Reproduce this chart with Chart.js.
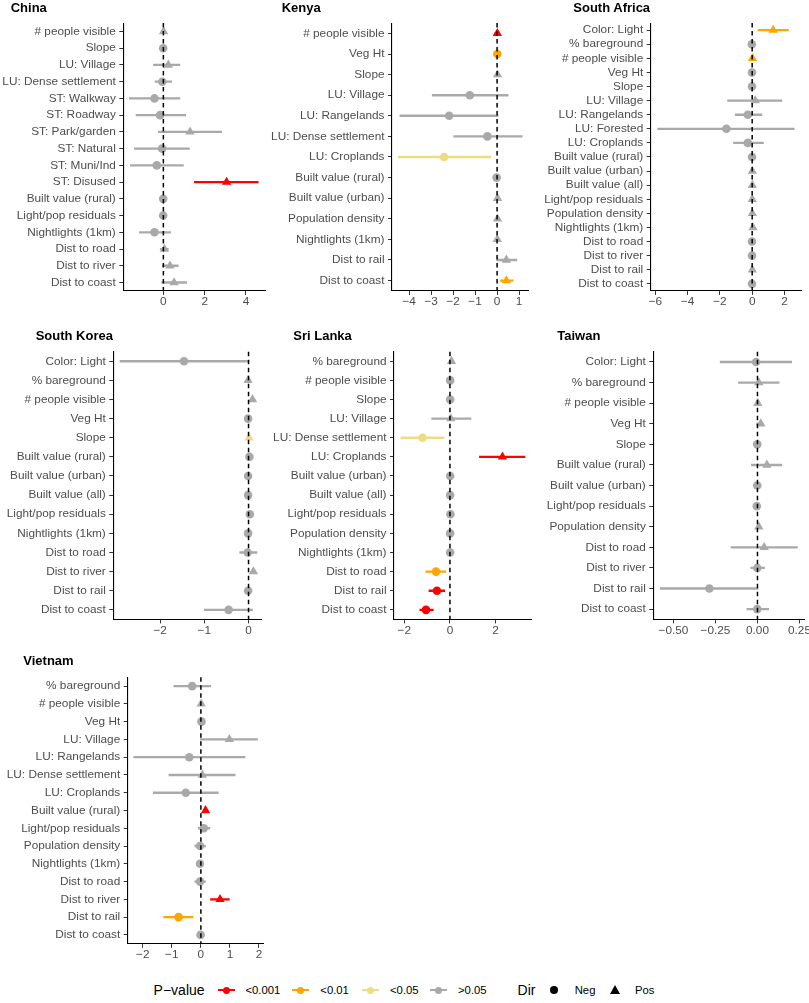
<!DOCTYPE html>
<html>
<head>
<meta charset="utf-8">
<script src="https://cdn.jsdelivr.net/npm/chart.js@4.4.1/dist/chart.umd.min.js"></script>
<style>
  body { margin: 0; background: #fff; width: 809px; height: 1003px; position: relative; overflow: hidden;
         font-family: 'Liberation Sans', Arial, Helvetica, sans-serif; }
  canvas { position: absolute; }
  .panel-title { position: absolute; font-size: 13px; font-weight: bold; line-height: 15px; color: #000; white-space: nowrap; }
  .lg { position: absolute; white-space: nowrap; color: #000; }
  .lg-title { font-size: 14px; }
  .lg-text { font-size: 11.3px; }
  .lg-line { position: absolute; height: 1.7px; width: 17px; }
  .lg-dot { position: absolute; width: 7px; height: 7px; border-radius: 50%; }
</style>
</head>
<body>
<div id="legend"></div>
<script>
// ---- shared legend data ----
const pLabels = ['<0.001', '<0.01', '<0.05', '>0.05'];
const pColors = ['#FF0000', '#FFA500', '#EEDC82', '#A9A9A9'];
const dirLabels = ['Neg', 'Pos'];

// ---- China ----
const chinaLabels = ['# people visible', 'Slope', 'LU: Village', 'LU: Dense settlement', 'ST: Walkway', 'ST: Roadway',
  'ST: Park/garden', 'ST: Natural', 'ST: Muni/Ind', 'ST: Disused', 'Built value (rural)', 'Light/pop residuals',
  'Nightlights (1km)', 'Dist to road', 'Dist to river', 'Dist to coast'];
const chinaEst = [0.01, -0.01, 0.24, -0.05, -0.43, -0.16, 1.29, -0.06, -0.32, 3.06, -0.01, -0.01, -0.43, 0.05, 0.32, 0.52];
const chinaLo = [-0.03, -0.05, -0.48, -0.4, -1.65, -1.32, -0.24, -1.4, -1.6, 1.5, -0.05, -0.05, -1.16, -0.15, -0.05, -0.08];
const chinaHi = [0.05, 0.03, 0.8, 0.4, 0.8, 1.08, 2.82, 1.26, 0.97, 4.59, 0.03, 0.03, 0.35, 0.24, 0.72, 1.13];
const chinaP = [3, 3, 3, 3, 3, 3, 3, 3, 3, 0, 3, 3, 3, 3, 3, 3];
const chinaDir = ['Pos', 'Neg', 'Pos', 'Neg', 'Neg', 'Neg', 'Pos', 'Neg', 'Neg', 'Pos', 'Neg', 'Neg', 'Neg', 'Pos', 'Pos', 'Pos'];
const chinaTicks = [0, 2, 4];

// ---- Kenya ----
const kenyaLabels = ['# people visible', 'Veg Ht', 'Slope', 'LU: Village', 'LU: Rangelands', 'LU: Dense settlement',
  'LU: Croplands', 'Built value (rural)', 'Built value (urban)', 'Population density', 'Nightlights (1km)',
  'Dist to rail', 'Dist to coast'];
const kenyaEst = [0.01, 0.01, 0.02, -1.24, -2.18, -0.44, -2.41, -0.02, 0.02, 0.02, 0.01, 0.42, 0.42];
const kenyaLo = [-0.1, -0.06, -0.03, -2.95, -4.42, -1.97, -4.5, -0.1, -0.03, -0.06, -0.04, -0.02, 0.15];
const kenyaHi = [0.1, 0.08, 0.07, 0.5, 0.05, 1.14, -0.29, 0.04, 0.07, 0.1, 0.06, 0.9, 0.73];
const kenyaP = [0, 1, 3, 3, 3, 3, 2, 3, 3, 3, 3, 3, 1];
const kenyaDir = ['Pos', 'Neg', 'Pos', 'Neg', 'Neg', 'Neg', 'Neg', 'Neg', 'Pos', 'Pos', 'Pos', 'Pos', 'Pos'];
const kenyaTicks = [-4, -3, -2, -1, 0, 1];

// ---- South Africa ----
const saLabels = ['Color: Light', '% bareground', '# people visible', 'Veg Ht', 'Slope', 'LU: Village', 'LU: Rangelands',
  'LU: Forested', 'LU: Croplands', 'Built value (rural)', 'Built value (urban)', 'Built value (all)',
  'Light/pop residuals', 'Population density', 'Nightlights (1km)', 'Dist to road', 'Dist to river',
  'Dist to rail', 'Dist to coast'];
const saEst = [1.3, -0.02, 0.02, -0.01, -0.01, 0.19, -0.27, -1.6, -0.27, -0.01, 0.01, 0.01, 0.01, 0.01, 0.05, -0.01, -0.01, 0.01, -0.01];
const saLo = [0.37, -0.07, 0.005, -0.06, -0.06, -1.53, -1.05, -5.86, -1.16, -0.06, -0.04, -0.04, -0.04, -0.04, -0.02, -0.06, -0.06, -0.04, -0.06];
const saHi = [2.25, 0.03, 0.04, 0.04, 0.04, 1.84, 0.6, 2.6, 0.7, 0.04, 0.06, 0.06, 0.06, 0.06, 0.12, 0.04, 0.04, 0.06, 0.04];
const saP = [1, 3, 1, 3, 3, 3, 3, 3, 3, 3, 3, 3, 3, 3, 3, 3, 3, 3, 3];
const saDir = ['Pos', 'Neg', 'Pos', 'Neg', 'Neg', 'Pos', 'Neg', 'Neg', 'Neg', 'Neg', 'Pos', 'Pos', 'Pos', 'Pos', 'Pos', 'Neg', 'Neg', 'Pos', 'Neg'];
const saTicks = [-6, -4, -2, 0, 2];

// ---- South Korea ----
const skLabels = ['Color: Light', '% bareground', '# people visible', 'Veg Ht', 'Slope', 'Built value (rural)',
  'Built value (urban)', 'Built value (all)', 'Light/pop residuals', 'Nightlights (1km)', 'Dist to road',
  'Dist to river', 'Dist to rail', 'Dist to coast'];
const skEst = [-1.46, -0.01, 0.09, -0.01, 0.01, 0.02, -0.01, -0.01, 0.03, -0.01, -0.02, 0.11, -0.01, -0.45];
const skLo = [-2.91, -0.04, 0.05, -0.03, 0.002, -0.01, -0.03, -0.03, 0.0, -0.03, -0.2, 0.06, -0.03, -1.0];
const skHi = [0.01, 0.02, 0.13, 0.01, 0.02, 0.05, 0.01, 0.01, 0.06, 0.01, 0.19, 0.16, 0.01, 0.09];
const skP = [3, 3, 3, 3, 2, 3, 3, 3, 3, 3, 3, 3, 3, 3];
const skDir = ['Neg', 'Pos', 'Pos', 'Neg', 'Pos', 'Neg', 'Neg', 'Neg', 'Neg', 'Neg', 'Neg', 'Pos', 'Neg', 'Neg'];
const skTicks = [-2, -1, 0];

// ---- Sri Lanka ----
const slLabels = ['% bareground', '# people visible', 'Slope', 'LU: Village', 'LU: Dense settlement', 'LU: Croplands',
  'Built value (urban)', 'Built value (all)', 'Light/pop residuals', 'Population density', 'Nightlights (1km)',
  'Dist to road', 'Dist to rail', 'Dist to coast'];
const slEst = [0.07, 0.01, 0.01, 0.04, -1.2, 2.3, 0.01, 0.01, 0.02, 0.01, 0.01, -0.61, -0.57, -1.05];
const slLo = [-0.01, -0.03, -0.03, -0.8, -2.15, 1.29, -0.03, -0.03, -0.02, -0.03, -0.03, -1.05, -0.92, -1.32];
const slHi = [0.13, 0.05, 0.05, 0.92, -0.26, 3.29, 0.05, 0.05, 0.06, 0.05, 0.05, -0.18, -0.23, -0.73];
const slP = [3, 3, 3, 3, 2, 0, 3, 3, 3, 3, 3, 1, 0, 0];
const slDir = ['Pos', 'Neg', 'Neg', 'Pos', 'Neg', 'Pos', 'Neg', 'Neg', 'Neg', 'Neg', 'Neg', 'Neg', 'Neg', 'Neg'];
const slTicks = [-2, 0, 2];

// ---- Taiwan ----
const twLabels = ['Color: Light', '% bareground', '# people visible', 'Veg Ht', 'Slope', 'Built value (rural)',
  'Built value (urban)', 'Light/pop residuals', 'Population density', 'Dist to road', 'Dist to river',
  'Dist to rail', 'Dist to coast'];
const twEst = [-0.008, 0.008, 0.002, 0.02, -0.001, 0.056, -0.001, -0.004, 0.008, 0.04, -0.001, -0.286, -0.001];
const twLo = [-0.222, -0.113, -0.006, -0.005, -0.008, -0.036, -0.008, -0.01, -0.002, -0.157, -0.04, -0.579, -0.063];
const twHi = [0.204, 0.129, 0.01, 0.03, 0.006, 0.145, 0.006, 0.002, 0.018, 0.238, 0.042, 0.003, 0.067];
const twP = [3, 3, 3, 3, 3, 3, 3, 3, 3, 3, 3, 3, 3];
const twDir = ['Neg', 'Pos', 'Pos', 'Pos', 'Neg', 'Pos', 'Neg', 'Neg', 'Pos', 'Pos', 'Neg', 'Neg', 'Neg'];
const twTicks = [-0.5, -0.25, 0, 0.25];

// ---- Vietnam ----
const vnLabels = ['% bareground', '# people visible', 'Veg Ht', 'LU: Village', 'LU: Rangelands', 'LU: Dense settlement',
  'LU: Croplands', 'Built value (rural)', 'Light/pop residuals', 'Population density', 'Nightlights (1km)',
  'Dist to road', 'Dist to river', 'Dist to rail', 'Dist to coast'];
const vnEst = [-0.3, 0.01, 0.02, 0.98, -0.4, 0.05, -0.52, 0.16, 0.1, -0.03, -0.03, -0.03, 0.66, -0.77, -0.01];
const vnLo = [-0.93, -0.04, -0.03, -0.02, -2.31, -1.1, -1.64, 0.09, -0.09, -0.21, -0.08, -0.21, 0.33, -1.28, -0.05];
const vnHi = [0.34, 0.06, 0.07, 1.95, 1.52, 1.18, 0.6, 0.23, 0.31, 0.16, 0.03, 0.16, 0.98, -0.27, 0.03];
const vnP = [3, 3, 3, 3, 3, 3, 3, 0, 3, 3, 3, 3, 0, 1, 3];
const vnDir = ['Neg', 'Pos', 'Neg', 'Pos', 'Neg', 'Pos', 'Neg', 'Pos', 'Neg', 'Neg', 'Neg', 'Neg', 'Pos', 'Neg', 'Neg'];
const vnTicks = [-2, -1, 0, 1, 2];

const FONT = "'Liberation Sans', Arial, Helvetica, sans-serif";
const AXIS_TEXT = '#4D4D4D';

// panel layout: where each facet sits on the page
const panels = [
  { title: 'China', labels: chinaLabels, est: chinaEst, lo: chinaLo, hi: chinaHi, p: chinaP, dir: chinaDir,
    ticks: chinaTicks, dec: 0, xmin: -1.94, xmax: 4.92,
    col: 0, row: 0, titleX: 10.7, titleY: 7.6, plotL: 123.3, plotR: 265, plotT: 23.1, plotB: 290.9 },
  { title: 'Kenya', labels: kenyaLabels, est: kenyaEst, lo: kenyaLo, hi: kenyaHi, p: kenyaP, dir: kenyaDir,
    ticks: kenyaTicks, dec: 0, xmin: -4.78, xmax: 1.42,
    col: 262, row: 0, titleX: 281.7, titleY: 7.6, plotL: 392, plotR: 528.3, plotT: 23.1, plotB: 290.9 },
  { title: 'South Africa', labels: saLabels, est: saEst, lo: saLo, hi: saHi, p: saP, dir: saDir,
    ticks: saTicks, dec: 0, xmin: -6.29, xmax: 3.07,
    col: 532, row: 0, titleX: 573.3, titleY: 7.6, plotL: 650.7, plotR: 801.7, plotT: 23.1, plotB: 290.9 },
  { title: 'South Korea', labels: skLabels, est: skEst, lo: skLo, hi: skHi, p: skP, dir: skDir,
    ticks: skTicks, dec: 0, xmin: -3.06, xmax: 0.3,
    col: 0, row: 320, titleX: 35.7, titleY: 335.7, plotL: 113.3, plotR: 261.8, plotT: 351.7, plotB: 619.4 },
  { title: 'Sri Lanka', labels: slLabels, est: slEst, lo: slLo, hi: slHi, p: slP, dir: slDir,
    ticks: slTicks, dec: 0, xmin: -2.45, xmax: 3.55,
    col: 262, row: 320, titleX: 293.3, titleY: 335.7, plotL: 394, plotR: 531, plotT: 351.7, plotB: 619.4 },
  { title: 'Taiwan', labels: twLabels, est: twEst, lo: twLo, hi: twHi, p: twP, dir: twDir,
    ticks: twTicks, dec: 2, xmin: -0.62, xmax: 0.28,
    col: 532, row: 320, titleX: 557.3, titleY: 335.7, plotL: 653.3, plotR: 804.5, plotT: 351.7, plotB: 619.4 },
  { title: 'Vietnam', labels: vnLabels, est: vnEst, lo: vnLo, hi: vnHi, p: vnP, dir: vnDir,
    ticks: vnTicks, dec: 0, xmin: -2.52, xmax: 2.17,
    col: 0, row: 640, titleX: 23.3, titleY: 660, plotL: 127.7, plotR: 263.9, plotT: 677.2, plotB: 943.8 }
];

function fmtTick(v, dec) {
  const s = Math.abs(v).toFixed(dec);
  return (v < 0 ? '\u2212' : '') + s;
}

// dashed reference line at zero
const zeroLine = {
  id: 'zeroLine',
  afterDatasetsDraw(chart) {
    const {ctx, chartArea, scales} = chart;
    const x = scales.x.getPixelForValue(0);
    ctx.save();
    ctx.strokeStyle = '#000';
    ctx.lineWidth = 1.5;
    ctx.setLineDash([4.5, 3.5]);
    ctx.beginPath();
    ctx.moveTo(x, chartArea.top);
    ctx.lineTo(x, chartArea.bottom);
    ctx.stroke();
    ctx.restore();
  }
};

function drawPanel(cfg) {
  const canvas = document.createElement('canvas');
  const w = Math.ceil(cfg.plotR - cfg.col + 18);
  const h = Math.ceil(cfg.plotB - cfg.row + 26);
  const padR = w - (cfg.plotR - cfg.col);
  const xAxisH = h - (cfg.plotB - cfg.row);
  canvas.width = w;
  canvas.height = h;
  canvas.style.left = cfg.col + 'px';
  canvas.style.top = cfg.row + 'px';
  canvas.style.width = w + 'px';
  canvas.style.height = h + 'px';
  document.body.appendChild(canvas);

  const title = document.createElement('div');
  title.className = 'panel-title';
  title.textContent = cfg.title;
  title.style.left = cfg.titleX + 'px';
  title.style.top = (cfg.titleY - 7.5) + 'px';
  document.body.appendChild(title);

  const colors = cfg.p.map(k => pColors[k]);

  new Chart(canvas, {
    type: 'bar',
    data: {
      labels: cfg.labels,
      datasets: [
        {
          type: 'line',
          indexAxis: 'y',
          data: cfg.est,
          showLine: false,
          order: 0,
          clip: false,
          pointStyle: cfg.dir.map(d => d === 'Pos' ? 'triangle' : 'circle'),
          pointRadius: cfg.dir.map(d => d === 'Pos' ? 5.4 : 4.3),
          pointHoverRadius: cfg.dir.map(d => d === 'Pos' ? 5.4 : 4.3),
          pointBackgroundColor: colors,
          pointBorderColor: colors,
          pointBorderWidth: 0
        },
        {
          type: 'bar',
          indexAxis: 'y',
          data: cfg.lo.map((v, i) => [v, cfg.hi[i]]),
          backgroundColor: colors,
          borderWidth: 0,
          barThickness: 1.7,
          order: 1
        }
      ]
    },
    options: {
      indexAxis: 'y',
      responsive: false,
      animation: false,
      events: [],
      layout: { padding: { left: 0, right: padR, top: cfg.plotT - cfg.row, bottom: 0 } },
      plugins: {
        legend: { display: false },
        tooltip: { enabled: false },
        title: { display: false }
      },
      scales: {
        y: {
          type: 'category',
          offset: true,
          grid: { offset: false, drawOnChartArea: false, drawTicks: true, tickLength: 4, color: '#333', lineWidth: 1 },
          border: { display: true, color: '#000', width: 1.1 },
          ticks: { autoSkip: false, color: AXIS_TEXT, padding: 3.5, font: { family: FONT, size: 11.8 } },
          afterFit: s => { s.width = cfg.plotL - cfg.col; }
        },
        x: {
          type: 'linear',
          min: cfg.xmin,
          max: cfg.xmax,
          afterBuildTicks: s => { s.ticks = cfg.ticks.map(v => ({ value: v })); },
          grid: { drawOnChartArea: false, drawTicks: true, tickLength: 4, color: '#333', lineWidth: 1 },
          border: { display: true, color: '#000', width: 1.1 },
          ticks: { color: AXIS_TEXT, padding: 0, maxRotation: 0, font: { family: FONT, size: 11.8 },
                   callback: v => fmtTick(v, cfg.dec) },
          afterFit: s => { s.height = xAxisH; }
        }
      }
    },
    plugins: [zeroLine]
  });
}

panels.forEach(drawPanel);

// ---- legend (P-value colours, Dir shapes) ----
function buildLegend() {
  const lg = document.getElementById('legend');
  const cy = 990;
  const add = (html, cls, left) => {
    const el = document.createElement('div');
    el.className = 'lg ' + cls;
    el.innerHTML = html;
    el.style.left = left + 'px';
    lg.appendChild(el);
    el.style.top = (cy - el.offsetHeight / 2) + 'px';
    return el;
  };
  add('P\u2212value', 'lg-title', 153.6);
  const keyX = [226.4, 300, 370.3, 438];
  const textX = [245.4, 320.3, 390, 458];
  pLabels.forEach((lab, i) => {
    const line = document.createElement('div');
    line.className = 'lg-line';
    line.style.background = pColors[i];
    line.style.left = (keyX[i] - 8.5) + 'px';
    line.style.top = (cy - 0.85) + 'px';
    lg.appendChild(line);
    const dot = document.createElement('div');
    dot.className = 'lg-dot';
    dot.style.background = pColors[i];
    dot.style.left = (keyX[i] - 3.5) + 'px';
    dot.style.top = (cy - 3.5) + 'px';
    lg.appendChild(dot);
    add(lab.replace('<', '&lt;').replace('>', '&gt;'), 'lg-text', textX[i]);
  });
  add('Dir', 'lg-title', 517.6);
  const circ = document.createElement('div');
  circ.style.cssText = `position:absolute;width:8.4px;height:8.4px;border-radius:50%;background:#000;left:${554.3 - 4.2}px;top:${cy - 4.2}px`;
  lg.appendChild(circ);
  add(dirLabels[0], 'lg-text', 574.7);
  const tri = document.createElement('div');
  tri.style.cssText = `position:absolute;width:0;height:0;border-left:5.2px solid transparent;border-right:5.2px solid transparent;border-bottom:9px solid #000;left:${615.5 - 5.2}px;top:${cy - 5}px`;
  lg.appendChild(tri);
  add(dirLabels[1], 'lg-text', 635);
}
buildLegend();
</script>
</body>
</html>
